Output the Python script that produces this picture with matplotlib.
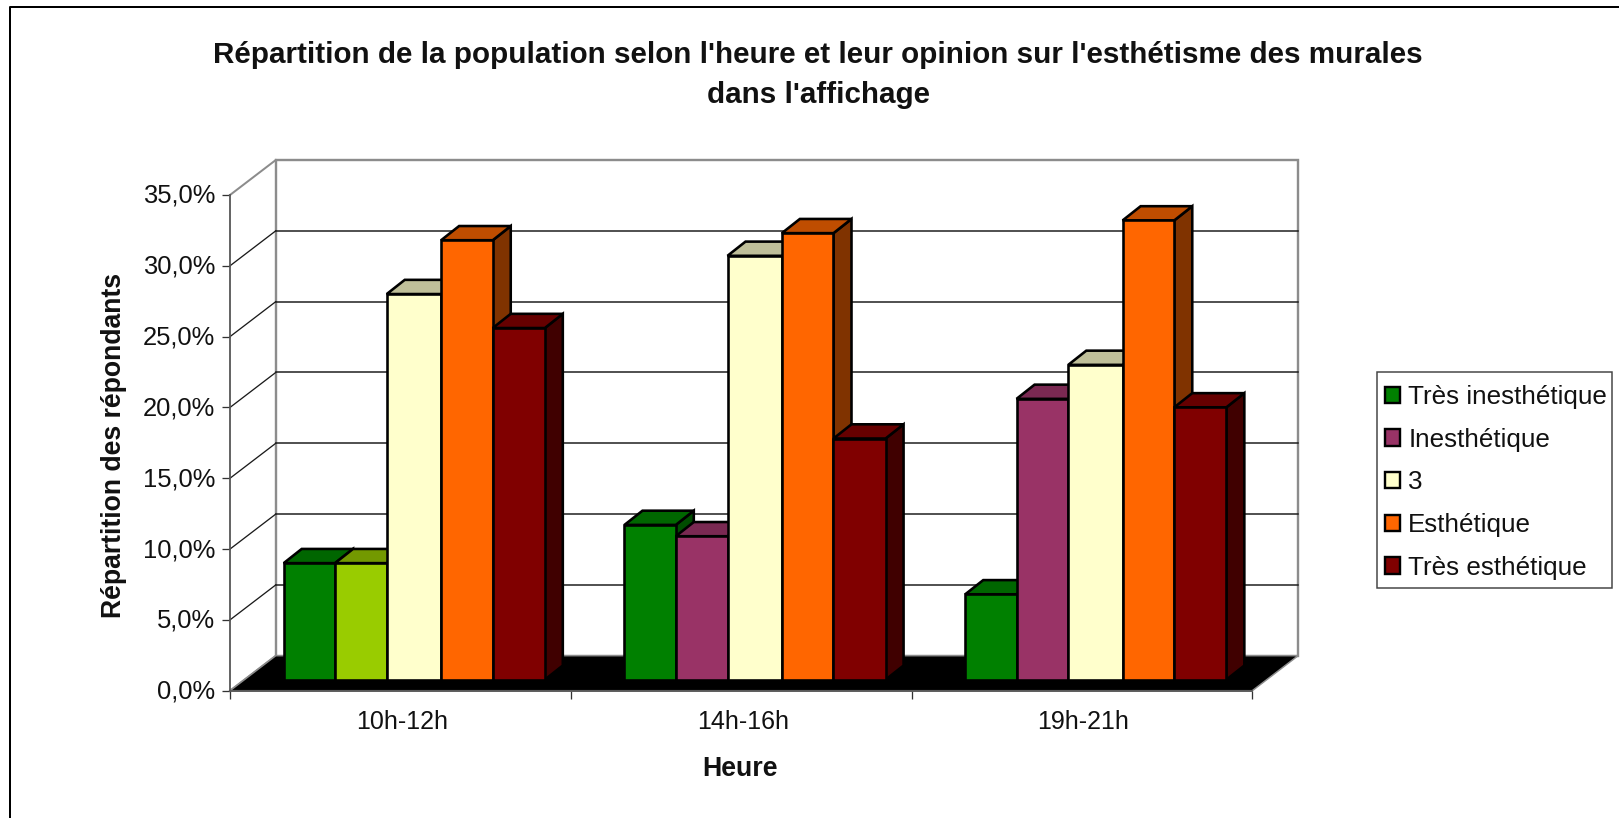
import matplotlib
matplotlib.use("Agg")
import matplotlib.pyplot as plt
from matplotlib.patches import Polygon, Rectangle, Patch
from matplotlib.transforms import ScaledTranslation

categories = ["10h-12h", "14h-16h", "19h-21h"]
series_names = ["Très inesthétique", "Inesthétique", "3", "Esthétique", "Très esthétique"]
tres_inesthetique = [8.2, 10.9, 6.0]
inesthetique = [8.2, 10.1, 19.8]
note_3 = [27.2, 29.9, 22.2]
esthetique = [31.0, 31.5, 32.4]
tres_esthetique = [24.8, 17.0, 19.2]
series_values = [tres_inesthetique, inesthetique, note_3, esthetique, tres_esthetique]
yticks = [0, 5, 10, 15, 20, 25, 30, 35]
ytick_labels = ["0,0%", "5,0%", "10,0%", "15,0%", "20,0%", "25,0%", "30,0%", "35,0%"]

colors = ["#008000", "#993366", "#FFFFCC", "#FF6600", "#800000"]
tops = ["#006600", "#7A2952", "#BFBF99", "#BF4D00", "#660000"]
sides = ["#004D00", "#5C1F3D", "#99997A", "#803300", "#400000"]
first_group_override = {1: ("#99CC00", "#739900", "#5C7A00")}

W, H = 1619, 818
dpi = 100
plt.rcParams["font.family"] = ["Liberation Sans", "DejaVu Sans"]
fig = plt.figure(figsize=(W / dpi, H / dpi), dpi=dpi, facecolor="white")
lw = 72 / dpi

# front plane of the 3D box in pixels
FL, FR, FT, FB = 230.0, 1252.3, 195.0, 690.7
ax = fig.add_axes([FL / W, 1 - FB / H, (FR - FL) / W, (FB - FT) / H])
ax.set_xlim(0, 3)
ax.set_ylim(0, 35)
ax.patch.set_visible(False)
px = 3 / (FR - FL)          # data units per pixel, x
py = 35 / (FB - FT)         # data units per pixel, y

# wall depth
DX, DY = 45.8 * px, 35.0 * py
# bar placement
BASE_DY = 11.0 * py
BAR_DX, BAR_DY = 18.0 * px, 14.2 * py
edges = [0.1576, 0.3082, 0.4600, 0.6195, 0.7710, 0.9238]

grey = "#8C8C8C"
# back wall
ax.add_patch(Rectangle((DX, DY), 3, 35, fc="white", ec=grey, lw=2.4 * lw, clip_on=False, zorder=1))
# gridlines and wall side
for v in yticks:
    if 0 < v < 35:
        ax.plot([DX, 3 + DX], [v + DY, v + DY], color="#1a1a1a", lw=1.5 * lw, clip_on=False, zorder=1.5)
        ax.plot([0, DX], [v, v + DY], color="#1a1a1a", lw=1.3 * lw, clip_on=False, zorder=1.5)
ax.plot([0, DX], [35, 35 + DY], color=grey, lw=2 * lw, clip_on=False, zorder=1.6)
ax.plot([0, DX], [0, DY], color=grey, lw=2 * lw, clip_on=False, zorder=1.6)
# floor
ax.add_patch(Polygon([(0, 0), (3, 0), (3 + DX, DY), (DX, DY)], closed=True, fc="black",
                     ec=grey, lw=1.5 * lw, clip_on=False, zorder=2))

# bars, drawing order left to right
z = 3
for g in range(len(categories)):
    for s, vals in enumerate(series_values):
        v = vals[g]
        c, t, d = colors[s], tops[s], sides[s]
        if g == 0 and s in first_group_override:
            c, t, d = first_group_override[s]
        x0 = g + edges[s]
        x1 = g + edges[s + 1]
        y0 = BASE_DY
        y1 = BASE_DY + v + 0.03
        kw = dict(closed=True, ec="black", lw=2.6 * lw, clip_on=False, joinstyle="miter")
        ax.add_patch(Polygon([(x1, y0), (x1 + BAR_DX, y0 + BAR_DY), (x1 + BAR_DX, y1 + BAR_DY), (x1, y1)],
                             fc=d, zorder=z, **kw))
        ax.add_patch(Polygon([(x0, y1), (x0 + BAR_DX, y1 + BAR_DY), (x1 + BAR_DX, y1 + BAR_DY), (x1, y1)],
                             fc=t, zorder=z, **kw))
        ax.add_patch(Polygon([(x0, y0), (x1, y0), (x1, y1), (x0, y1)], fc=c, zorder=z, **kw))
        z += 1

# axes
for sp in ("top", "right"):
    ax.spines[sp].set_visible(False)
for sp in ("left", "bottom"):
    ax.spines[sp].set_color("#555555")
    ax.spines[sp].set_linewidth(1.8 * lw)
    ax.spines[sp].set_zorder(30)
ax.set_yticks(yticks)
ax.set_yticklabels(ytick_labels)
ax.set_xticks([0, 1, 2, 3])
ax.set_xticklabels([])
ax.set_xticks([0.5, 1.5, 2.5], minor=True)
ax.set_xticklabels(categories, minor=True)
ax.tick_params(axis="x", which="major", length=8 * lw, width=1.3 * lw, color="#333333")
ax.tick_params(axis="x", which="minor", length=0, labelsize=18, pad=19 * lw, labelcolor="#111111")
ax.tick_params(axis="y", length=8 * lw, width=1.3 * lw, color="#333333", labelsize=18.4, pad=5, labelcolor="#111111")
for lab in ax.get_yticklabels():
    lab.set_transform(lab.get_transform() + ScaledTranslation(0, 1.5 / dpi, fig.dpi_scale_trans))
for lab in ax.get_xticklabels(minor=True):
    lab.set_transform(lab.get_transform() + ScaledTranslation(1.5 / dpi, 0, fig.dpi_scale_trans))

fig.text(818 / W, 1 - 75 / H,
         "Répartition de la population selon l'heure et leur opinion sur l'esthétisme des murales\ndans l'affichage",
         ha="center", va="center", fontsize=21.3, fontweight="bold", linespacing=1.55, color="#111111")
fig.text(739.5 / W, 1 - 769 / H, "Heure", ha="center", va="center", fontsize=19.3, fontweight="bold", color="#111111")
fig.text(114 / W, 1 - 445 / H, "Répartition des répondants", rotation=90, ha="center", va="center",
         fontsize=19.2, fontweight="bold", color="#111111")

# legend frame, then entries
fig.add_artist(Rectangle((1376.7 / W, 1 - 587.7 / H), 235 / W, 215.4 / H, transform=fig.transFigure,
                         fc="white", ec="#444444", lw=1.5 * lw))
handles = [Patch(fc=c, ec="black", lw=2.4 * lw) for c in colors]
leg = fig.legend(handles, series_names, loc="upper left",
                 bbox_to_anchor=(1376.7 / W, 1 - 376.6 / H), bbox_transform=fig.transFigure,
                 fontsize=18.7, frameon=False,
                 borderaxespad=0, borderpad=0.32, labelspacing=0.72, handlelength=0.58, handleheight=0.58,
                 handletextpad=0.31)
leg.set_zorder(5)
for txt in leg.get_texts():
    txt.set_color("#111111")

# chart-area border
fig.add_artist(plt.Line2D([10.0 / W, 10.0 / W, 1], [0, 1 - 6.5 / H, 1 - 6.5 / H],
                          transform=fig.transFigure, color="black", lw=2 * lw))
fig.savefig("out.png", dpi=dpi, facecolor="white")
